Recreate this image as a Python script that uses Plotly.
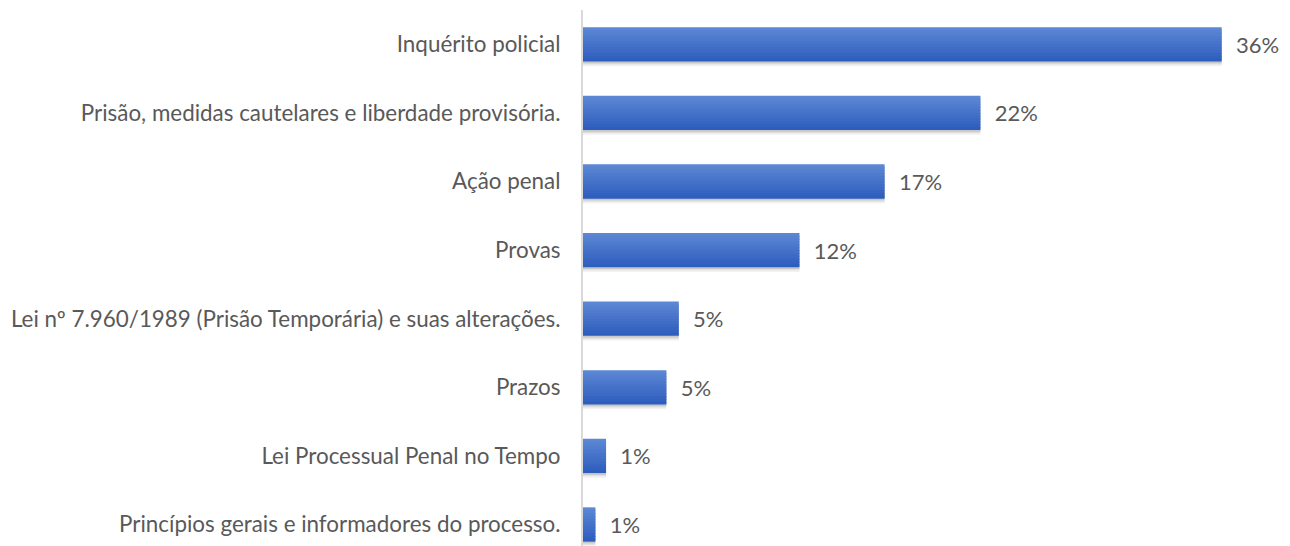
import plotly.graph_objects as go

categories = [
    "Inquérito policial",
    "Prisão, medidas cautelares e liberdade provisória.",
    "Ação penal",
    "Provas",
    "Lei nº 7.960/1989 (Prisão Temporária) e suas alterações.",
    "Prazos",
    "Lei Processual Penal no Tempo",
    "Princípios gerais e informadores do processo.",
]
values = [0.36, 0.224, 0.17, 0.122, 0.054, 0.047, 0.013, 0.007]

FONT = "Lato"
TXT = "#595959"
BAR_W = 0.5
top_rgb = (92, 135, 212)
bot_rgb = (46, 94, 189)
N = 12

fig = go.Figure()

# soft shadow below bars
for k, a in [(0.07, 0.05), (0.045, 0.08), (0.025, 0.10)]:
    fig.add_trace(go.Bar(
        x=values, y=categories, orientation="h",
        offset=-BAR_W / 2 + k, width=BAR_W,
        marker=dict(color=f"rgba(0,0,0,{a})", line=dict(width=0)),
        hoverinfo="skip",
    ))

# gradient stripes
for i in range(N):
    t = i / (N - 1)
    c = tuple(round(top_rgb[j] + (bot_rgb[j] - top_rgb[j]) * t) for j in range(3))
    w = BAR_W / N + (0.015 if i < N - 1 else 0)
    fig.add_trace(go.Bar(
        x=values, y=categories, orientation="h",
        offset=-BAR_W / 2 + i * BAR_W / N, width=w,
        marker=dict(color=f"rgb{c}", line=dict(width=0)),
        hoverinfo="skip",
    ))

# labels
fig.add_trace(go.Bar(
    x=values, y=categories, orientation="h",
    width=BAR_W,
    marker=dict(color="rgba(0,0,0,0)", line=dict(width=0)),
    texttemplate="  %{x:.0%}",
    textposition="outside",
    textfont=dict(family=FONT, size=22, color=TXT),
    cliponaxis=False,
))

fig.update_layout(
    width=1290, height=546,
    margin=dict(l=575, r=8, t=2, b=0),
    paper_bgcolor="white", plot_bgcolor="white",
    barmode="overlay",
    showlegend=False,
    xaxis=dict(range=[0, 0.3985], visible=False, showgrid=False, automargin=False),
    yaxis=dict(
        range=[7.43, -0.5],
        automargin=False,
        showline=True, linecolor="#d9d9d9", linewidth=2,
        ticks="outside", ticklen=16, tickcolor="rgba(0,0,0,0)",
        tickfont=dict(family=FONT, size=22.4, color=TXT),
        showgrid=False,
    ),
)

fig.write_html("out.html")
